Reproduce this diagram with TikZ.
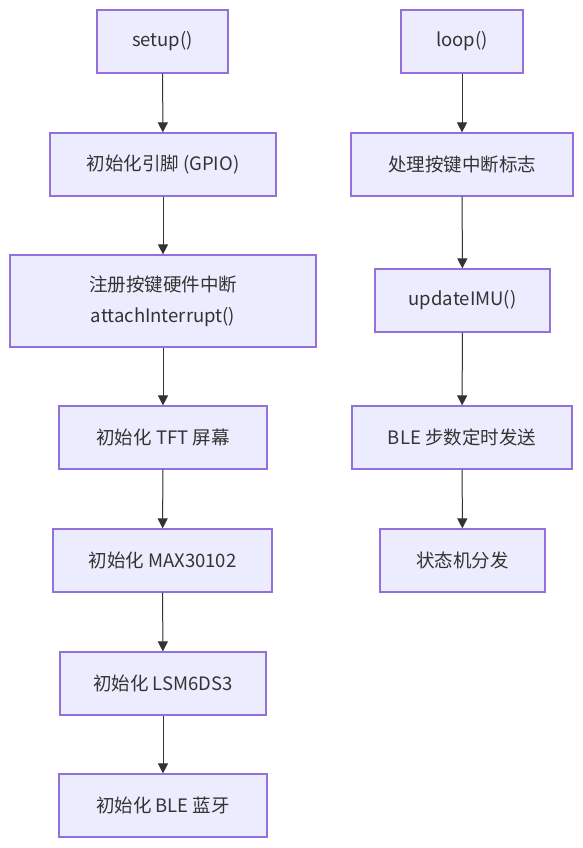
\documentclass[tikz,border=0pt]{standalone}
\usepackage{fontspec}
\setmainfont{Noto Sans CJK SC}
\usetikzlibrary{arrows.meta}
\definecolor{boxfill}{HTML}{ECECFF}
\definecolor{boxline}{HTML}{9370DB}
\definecolor{ink}{HTML}{333333}
\tikzset{
  box/.style={draw=boxline, fill=boxfill, line width=1.2pt, text=ink,
    minimum height=63pt, inner sep=0pt, align=center,
    font=\fontsize{18.5}{31}\selectfont},
  arr/.style={-{Triangle[length=10pt,width=10pt]}, draw=ink, fill=ink, line width=1pt}
}
\begin{document}
\begin{tikzpicture}[x=1pt, y=-1pt]
  \useasboundingbox (0,0) rectangle (583,848);
  % setup column
  \node[box, minimum width=131pt] (setup) at (162.5,41.5) {setup()};
  \node[box, minimum width=226pt] (gpio) at (163,164.5) {初始化引脚 (GPIO)};
  \node[box, minimum width=306pt, minimum height=92pt] (irq) at (163,301) {注册按键硬件中断\\attachInterrupt()};
  \node[box, minimum width=208pt] (tft) at (163,437.5) {初始化 TFT 屏幕};
  \node[box, minimum width=219pt] (max) at (162.5,560.5) {初始化 MAX30102};
  \node[box, minimum width=206pt] (lsm) at (163,683.5) {初始化 LSM6DS3};
  \node[box, minimum width=208pt] (ble) at (163,805.5) {初始化 BLE 蓝牙};
  % loop column
  \node[box, minimum width=122pt] (loop) at (462,41.5) {loop()};
  \node[box, minimum width=222pt] (keys) at (462,164.5) {处理按键中断标志};
  \node[box, minimum width=175pt] (imu) at (462.5,300.5) {updateIMU()};
  \node[box, minimum width=220pt] (send) at (462,437.5) {BLE 步数定时发送};
  \node[box, minimum width=165pt] (fsm) at (462.5,560.5) {状态机分发};
  % connectors
  \draw[arr] (setup) -- (gpio);
  \draw[arr] (gpio) -- (irq);
  \draw[arr] (irq) -- (tft);
  \draw[arr] (tft) -- (max);
  \draw[arr] (max) -- (lsm);
  \draw[arr] (lsm) -- (ble);
  \draw[arr] (loop) -- (keys);
  \draw[arr] (keys) -- (imu);
  \draw[arr] (imu) -- (send);
  \draw[arr] (send) -- (fsm);
\end{tikzpicture}
\end{document}
